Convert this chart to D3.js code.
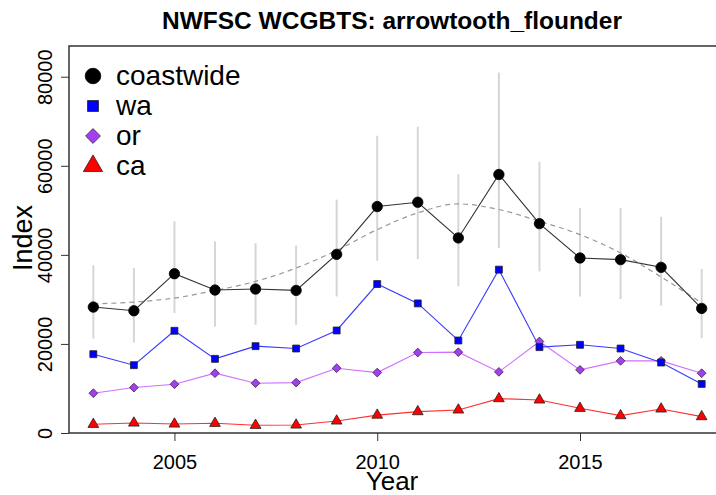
<!DOCTYPE html>
<meta charset="utf-8">
<style>
body { margin: 0; background: #fff; }
svg { font-family: "Liberation Sans", Arial, sans-serif; }
.axis path, .axis line { stroke: #333; }
</style>
<body>
<script src="https://cdn.jsdelivr.net/npm/d3@7"></script>
<script>

var years = d3.range(2003, 2019);

var coastwide = [28280, 27450, 35770, 32100, 32330, 32020, 40120, 50850, 51820, 43800, 58050, 47020, 39300, 38925, 37200, 27970];
var ciLow  = [21220, 20320, 26930, 23920, 24300, 24300, 30670, 38700, 39080, 32920, 41550, 36300, 30670, 30070, 28575, 21300];
var ciHigh = [37640, 37060, 47500, 42980, 42600, 42075, 52400, 66760, 68780, 58120, 80930, 60900, 50550, 50550, 48530, 36830];
var smooth = [29000, 29400, 30300, 32000, 34050, 37050, 41000, 45675, 49430, 51450, 50180, 47550, 44550, 40430, 35030, 29180];
var wa = [17700, 15230, 22950, 16650, 19500, 18970, 23020, 33450, 29100, 20770, 36680, 19280, 19800, 18970, 15820, 11020];
var or = [8930, 10200, 10950, 13430, 11180, 11320, 14550, 13570, 18070, 18150, 13720, 20550, 14180, 16200, 16200, 13430];
var ca = [1950, 2250, 2025, 2180, 1730, 1800, 2700, 4020, 4800, 5175, 7720, 7425, 5550, 3900, 5400, 3680];

var xTicks = [2005, 2010, 2015];
var yTicks = [0, 20000, 40000, 60000, 80000];

var width = 716, height = 495;
var plotLeft = 69, plotTop = 46, plotRight = 726, plotBottom = 433;

var svg = d3.select("body").append("svg")
    .attr("width", width)
    .attr("height", height);

var x = d3.scaleLinear().domain([2002.4, 2018.6]).range([plotLeft, plotRight]);
var y = d3.scaleLinear().domain([0, 86900]).range([plotBottom, plotTop]);

// box
svg.append("rect")
    .attr("x", plotLeft).attr("y", plotTop)
    .attr("width", plotRight - plotLeft).attr("height", plotBottom - plotTop)
    .attr("fill", "none").attr("stroke", "#333").attr("stroke-width", 1.5);

// axes
svg.append("g")
    .attr("class", "axis")
    .attr("transform", "translate(0," + plotBottom + ")")
    .call(d3.axisBottom(x).tickValues(xTicks).tickFormat(d3.format("d")).tickSize(8).tickSizeOuter(0))
    .call(function(g) {
      g.select(".domain").remove();
      g.selectAll("text").attr("font-size", 20).attr("fill", "#000").attr("y", 0).attr("dy", 36);
    });

svg.append("g")
    .attr("class", "axis")
    .attr("transform", "translate(" + plotLeft + ",0)")
    .call(d3.axisLeft(y).tickValues(yTicks).tickFormat(d3.format("d")).tickSize(8).tickSizeOuter(0))
    .call(function(g) {
      g.select(".domain").remove();
      g.selectAll(".tick text")
          .attr("font-size", 20).attr("fill", "#000")
          .attr("transform", "translate(-17,0) rotate(-90)")
          .attr("x", 0).attr("y", 0).attr("dy", 0)
          .attr("text-anchor", "middle");
    });

// error bars
svg.append("g").selectAll("line")
    .data(years)
    .join("line")
    .attr("x1", function(d) { return x(d); })
    .attr("x2", function(d) { return x(d); })
    .attr("y1", function(d, i) { return y(ciLow[i]); })
    .attr("y2", function(d, i) { return y(ciHigh[i]); })
    .attr("stroke", "#d6d6d6").attr("stroke-width", 2);

// smooth fit
svg.append("path")
    .datum(smooth)
    .attr("fill", "none")
    .attr("stroke", "#999").attr("stroke-width", 1.2)
    .attr("stroke-dasharray", "5,4")
    .attr("d", d3.line().curve(d3.curveMonotoneX)
      .x(function(d, i) { return x(years[i]); })
      .y(function(d) { return y(d); }));

var series = [
  {name: "coastwide", values: coastwide, line: "#333333", fill: "#000000", stroke: "#000000", sym: d3.symbolCircle, rot: 0, size: 85, lsize: 190},
  {name: "wa", values: wa, line: "#3a3aff", fill: "#0000ff", stroke: "#222", sym: d3.symbolSquare, rot: 0, size: 48, lsize: 120},
  {name: "or", values: or, line: "#d070ff", fill: "#a43ff0", stroke: "#3a2a4a", sym: d3.symbolSquare, rot: 45, size: 38, lsize: 110},
  {name: "ca", values: ca, line: "#ff3030", fill: "#ff0000", stroke: "#222", sym: d3.symbolTriangle, rot: 0, size: 50, lsize: 160}
];

var lineGen = d3.line()
    .x(function(d, i) { return x(years[i]); })
    .y(function(d) { return y(d); });

series.slice().reverse().forEach(function(s) {
  svg.append("path")
      .datum(s.values)
      .attr("fill", "none")
      .attr("stroke", s.line).attr("stroke-width", 1.1)
      .attr("d", lineGen);
});

series.slice().reverse().forEach(function(s) {
  svg.append("g").selectAll("path")
      .data(s.values)
      .join("path")
      .attr("transform", function(d, i) { return "translate(" + x(years[i]) + "," + y(d) + ") rotate(" + s.rot + ")"; })
      .attr("d", d3.symbol().type(s.sym).size(s.size))
      .attr("fill", s.fill)
      .attr("stroke", s.stroke).attr("stroke-width", 0.8);
});

// legend
var legend = svg.append("g");
series.forEach(function(s, i) {
  var ly = 76 + i * 30;
  legend.append("path")
      .attr("transform", "translate(93," + ly + ") rotate(" + s.rot + ")")
      .attr("d", d3.symbol().type(s.sym).size(s.lsize))
      .attr("fill", s.fill)
      .attr("stroke", s.stroke).attr("stroke-width", 0.8);
  legend.append("text")
      .attr("x", 116).attr("y", ly + 9)
      .attr("font-size", 28)
      .text(s.name);
});

// title and labels
svg.append("text")
    .attr("x", 392).attr("y", 29)
    .attr("text-anchor", "middle")
    .attr("font-size", 24.5).attr("font-weight", "bold")
    .text("NWFSC WCGBTS: arrowtooth_flounder");

svg.append("text")
    .attr("x", 392).attr("y", 490)
    .attr("text-anchor", "middle")
    .attr("font-size", 26)
    .text("Year");

svg.append("text")
    .attr("transform", "translate(32,238) rotate(-90)")
    .attr("text-anchor", "middle")
    .attr("font-size", 27)
    .text("Index");

</script>
</body>
</html>
